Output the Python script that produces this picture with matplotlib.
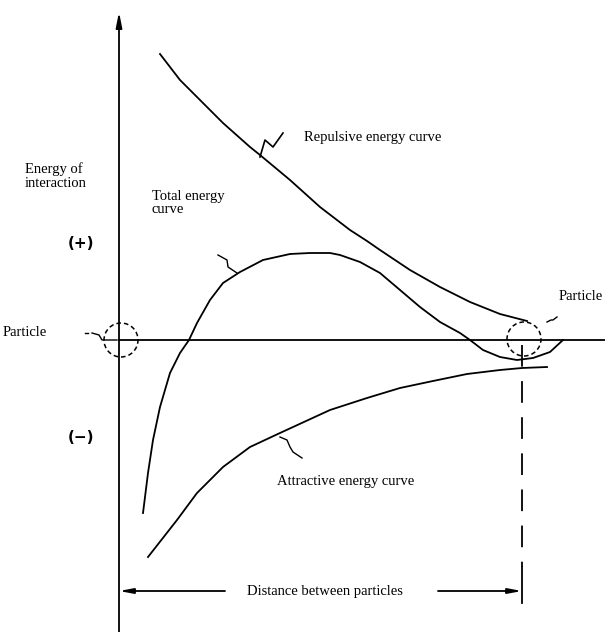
import matplotlib.pyplot as plt
from matplotlib.patches import Circle

# distance between particles (from the left particle) and energy
rep_x = [41, 61, 81, 104, 131, 141, 171, 201, 231, 248, 261, 291, 321, 351, 381, 408]
rep_y = [286, 260, 240, 217, 193, 185, 160, 133, 110, 99, 90, 70, 53, 38, 26, 19]

tot_x = [24, 29, 34, 41, 51, 61, 70, 78, 91, 104, 121, 144, 171, 191, 211, 221, 241, 261,
         281, 301, 321, 341, 351, 364, 381, 398, 414, 431, 444]
tot_y = [-173, -133, -100, -67, -33, -13, 0, 17, 40, 57, 68, 80, 86, 87, 87, 85, 78, 67,
         50, 33, 18, 7, 0, -10, -17, -20, -18, -12, 0]

att_x = [29, 58, 78, 104, 131, 161, 211, 248, 281, 314, 348, 381, 403, 428]
att_y = [-217, -180, -153, -127, -107, -93, -70, -58, -48, -41, -34, -30, -28, -27]

eq_dist = 403  # equilibrium separation (dashed line)

plt.rcParams['font.family'] = ['Liberation Serif', 'DejaVu Serif']

fig = plt.figure(figsize=(6.05, 6.32), dpi=100)
ax = fig.add_axes([0, 0, 1, 1])
ax.set_xlim(-119, 486)
ax.set_ylim(-292, 340)
ax.axis('off')

lw = 1.3
arrow = dict(lw=lw, color='black', shrinkA=0, shrinkB=0)

# axes
ax.annotate('', xy=(0, 328), xytext=(0, -292),
            arrowprops=dict(arrowstyle='-|>,head_length=0.9,head_width=0.18', **arrow))
ax.plot([0, 486], [0, 0], color='black', lw=lw)

# curves
ax.plot(rep_x, rep_y, color='black', lw=lw)
ax.plot(tot_x, tot_y, color='black', lw=lw)
ax.plot(att_x, att_y, color='black', lw=lw)

# particles
ax.add_patch(Circle((2, 0), 17, fill=False, ls=(0, (3, 2)), lw=1.1))
ax.add_patch(Circle((405, 1), 17, fill=False, ls=(0, (3, 2)), lw=1.1))

# equilibrium distance
ax.plot([eq_dist, eq_dist], [-5, -227], color='black', lw=lw, ls=(0, (12, 8)))
ax.plot([eq_dist, eq_dist], [-227, -263], color='black', lw=lw)
ax.annotate('', xy=(0, -251), xytext=(106, -251),
            arrowprops=dict(arrowstyle='-|>,head_length=0.8,head_width=0.15', **arrow))
ax.annotate('', xy=(eq_dist, -251), xytext=(319, -251),
            arrowprops=dict(arrowstyle='-|>,head_length=0.8,head_width=0.15', **arrow))

# leader squiggles
ax.plot([141, 146, 154, 164], [183, 200, 193, 207], color='black', lw=1.2)
ax.plot([99, 108, 109, 118], [85, 80, 73, 67], color='black', lw=1.0)
ax.plot([161, 168, 171, 174, 183], [-97, -100, -107, -112, -118], color='black', lw=1.0)
ax.plot([-34, -31], [7, 7], color='black', lw=1.0)
ax.plot([-27, -20, -17, -2], [7, 5, 0, 0], color='black', lw=1.0)
ax.plot([428, 432, 434, 438], [18, 20, 20, 23], color='black', lw=1.0)

fs = 10.5
ax.text(-94, 164, 'Energy of\ninteraction', fontsize=fs, va='center', ha='left', linespacing=1.05)
ax.text(33, 137, 'Total energy\ncurve', fontsize=fs, va='center', ha='left', linespacing=1.05)
ax.text(185, 202, 'Repulsive energy curve', fontsize=fs, va='center', ha='left')
ax.text(-116, 7, 'Particle', fontsize=fs, va='center', ha='left')
ax.text(440, 43, 'Particle', fontsize=fs, va='center', ha='left')
ax.text(158, -141, 'Attractive energy curve', fontsize=fs, va='center', ha='left')
ax.text(128, -251, 'Distance between particles', fontsize=fs, va='center', ha='left')
ax.text(-51, 96, '(+)', fontsize=11, fontweight='bold', family='DejaVu Sans', va='center', ha='left')
ax.text(-51, -97, '(\u2212)', fontsize=11, fontweight='bold', family='DejaVu Sans', va='center', ha='left')

fig.savefig('out.png', dpi=100)
